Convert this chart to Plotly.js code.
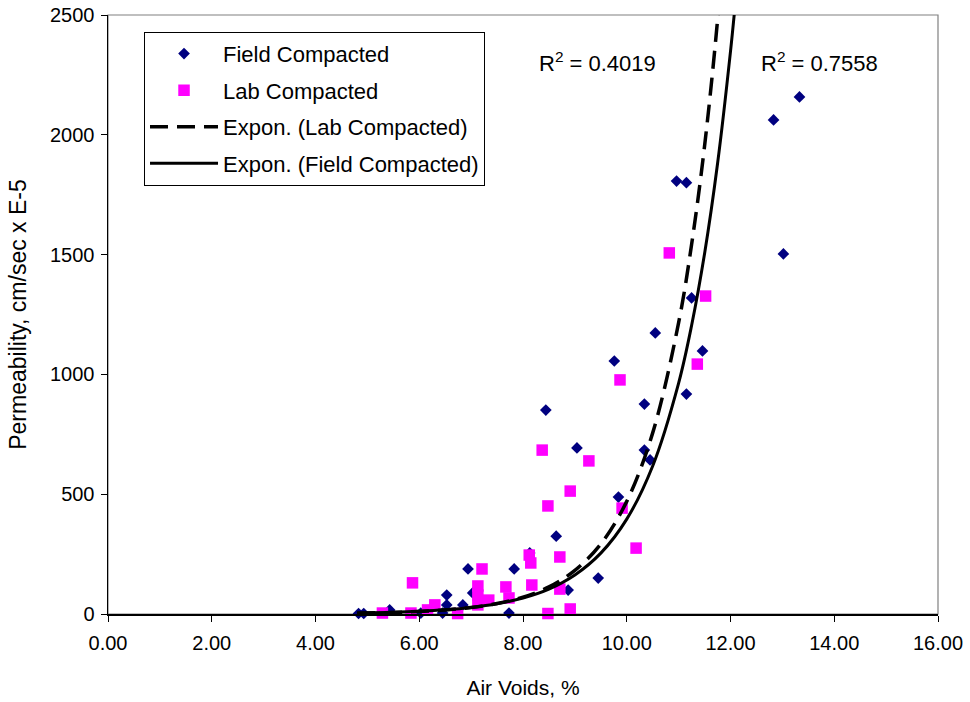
<!DOCTYPE html>
<html>
<head>
<meta charset="utf-8">
<script src="https://cdn.plot.ly/plotly-3.0.1.min.js"></script>
<style>html,body{margin:0;padding:0;background:#fff;}#chart{width:970px;height:702px;}</style>
</head>
<body>
<div id="chart"></div>
<script>
// Field Compacted samples (Air Voids %, Permeability cm/sec x E-5)
var fieldX = [4.83, 4.93, 5.43, 6.03, 6.45, 6.53, 6.53, 6.84, 6.94, 7.03, 7.73, 7.83, 8.13, 8.44, 8.64, 8.87, 9.04, 9.45, 9.76, 9.84, 10.34, 10.34, 10.45, 10.55, 10.96, 11.15, 11.15, 11.25, 11.46, 12.83, 13.02, 13.33];
var fieldY = [2, 2, 17, 4, 4, 79, 38, 38, 188, 88, 4, 188, 255, 851, 325, 100, 693, 150, 1056, 488, 876, 684, 643, 1173, 1807, 1800, 918, 1319, 1098, 2062, 1503, 2158];

// Lab Compacted samples
var labX = [5.29, 5.84, 5.87, 6.16, 6.30, 6.74, 7.13, 7.13, 7.13, 7.21, 7.34, 7.67, 7.73, 8.12, 8.15, 8.17, 8.37, 8.48, 8.48, 8.71, 8.71, 8.91, 8.91, 9.27, 9.87, 9.91, 10.18, 10.82, 11.36, 11.52];
var labY = [4, 4, 130, 17, 38, 2, 117, 79, 38, 188, 58, 113, 67, 246, 213, 121, 684, 451, 2, 238, 104, 513, 21, 639, 977, 442, 275, 1507, 1043, 1327];

// Exponential trendlines, values
var trendX = [4.8, 5.5, 6.0, 6.5, 7.0, 7.5, 8.0, 8.5, 9.0, 9.5, 10.0, 10.5, 11.0, 11.25, 11.5, 11.75, 12.0, 12.1];
var labTrendY = [3.4, 6.5, 10.5, 16.9, 27.2, 43.7, 70.3, 113, 182, 292, 470, 756, 1216, 1542, 1953, 2478, 3150, 3450];
var fieldTrendY = [3.9, 7.2, 11.3, 17.6, 27.4, 42.8, 66.8, 104, 163, 254, 396, 618, 964, 1204, 1504, 1879, 2348, 2566];

var r2Lab = "R<sup>2</sup> = 0.4019";
var r2Field = "R<sup>2</sup> = 0.7558";

var xTicks = [0, 2, 4, 6, 8, 10, 12, 14, 16];
var yTicks = [0, 500, 1000, 1500, 2000, 2500];

var FONT = "Liberation Sans, Arial, sans-serif";

var traces = [
  {x: fieldX, y: fieldY, type: "scatter", mode: "markers", name: "Field Compacted", legendgroup: "a",
   marker: {symbol: "diamond", size: 9, color: "#000080"}, cliponaxis: false},
  {x: labX, y: labY, type: "scatter", mode: "markers", name: "Lab Compacted", legendgroup: "b",
   marker: {symbol: "square", size: 11.5, color: "#FF00FF"}, cliponaxis: false},
  {x: trendX, y: labTrendY, type: "scatter", mode: "lines", name: "Expon. (Lab Compacted)", legendgroup: "c",
   line: {color: "#000000", width: 3.5, dash: "18px,9px", shape: "spline"}},
  {x: trendX, y: fieldTrendY, type: "scatter", mode: "lines", name: "Expon. (Field Compacted)", legendgroup: "d",
   line: {color: "#000000", width: 3, shape: "spline"}}
];

var layout = {
  width: 970, height: 702,
  margin: {l: 108, r: 32, t: 15, b: 88},
  paper_bgcolor: "#ffffff", plot_bgcolor: "#ffffff",
  font: {family: FONT, size: 20, color: "#000000"},
  showlegend: true,
  legend: {x: 0.0434, y: 0.972, xanchor: "left", yanchor: "top", bgcolor: "#ffffff",
           bordercolor: "#000000", borderwidth: 1, font: {family: FONT, size: 22, color: "#000"},
           tracegroupgap: 5, itemwidth: 68},
  xaxis: {range: [0, 16], tickvals: xTicks, ticktext: xTicks.map(function(v){return v.toFixed(2);}),
          showgrid: false, zeroline: false, showline: true, linecolor: "#000", linewidth: 1.5,
          ticks: "outside", ticklen: 6, tickcolor: "#000", tickfont: {family: FONT, size: 20},
          ticklabelstandoff: 4,
          title: {text: "Air Voids, %", font: {family: FONT, size: 21}, standoff: 28}},
  yaxis: {range: [0, 2500], tickvals: yTicks, showgrid: false, zeroline: false, showline: true,
          linecolor: "#000", linewidth: 1.5, ticks: "outside", ticklen: 6, tickcolor: "#000",
          tickfont: {family: FONT, size: 20}, ticklabelstandoff: 2,
          title: {text: "Permeability, cm/sec x E-5", font: {family: FONT, size: 23}, standoff: 17}},
  shapes: [
    {type: "rect", xref: "paper", yref: "paper", x0: 0, x1: 1, y0: 0, y1: 1,
     line: {color: "#808080", width: 1.2}, layer: "below"}
  ],
  annotations: [
    {x: 9.43, y: 2304, xref: "x", yref: "y", text: r2Lab, showarrow: false, font: {family: FONT, size: 22}},
    {x: 13.71, y: 2304, xref: "x", yref: "y", text: r2Field, showarrow: false, font: {family: FONT, size: 22}}
  ]
};

Plotly.newPlot("chart", traces, layout, {displayModeBar: false, staticPlot: true});
</script>
</body>
</html>
